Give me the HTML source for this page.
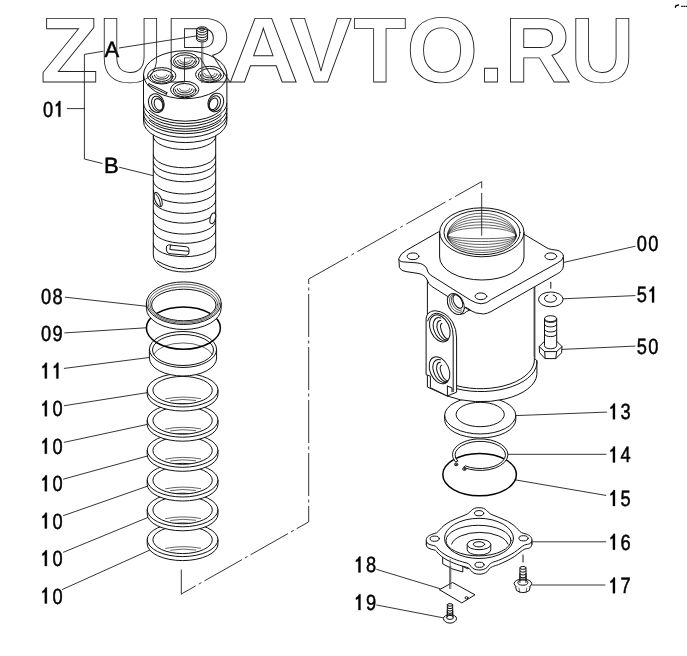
<!DOCTYPE html>
<html>
<head>
<meta charset="utf-8">
<title>Parts diagram</title>
<style>
html,body{margin:0;padding:0;background:#fff;}
body{width:687px;height:656px;overflow:hidden;font-family:"Liberation Sans",sans-serif;}
svg{display:block;position:absolute;left:0;top:0;}
.l{fill:none;stroke:#111;stroke-width:1;stroke-linecap:round;stroke-linejoin:round;}
.t{fill:none;stroke:#222;stroke-width:0.7;stroke-linecap:round;}
.w{fill:#fff;stroke:#111;stroke-width:1;stroke-linejoin:round;}
.wt{fill:#fff;stroke:#222;stroke-width:0.7;stroke-linejoin:round;}
.f{fill:#fff;stroke:none;}
.k{fill:none;stroke:#000;stroke-width:1.5;stroke-linecap:round;}
.g{fill:none;stroke:#555;stroke-width:0.8;}
.lab{font-family:"Liberation Sans",sans-serif;font-size:22px;fill:#000;stroke:#000;stroke-width:0.5;text-rendering:geometricPrecision;}
.wm{font-family:"Liberation Sans",sans-serif;font-weight:bold;font-size:92.5px;fill:none;stroke:#222;stroke-width:0.9;text-rendering:geometricPrecision;}
</style>
</head>
<body>
<svg width="687" height="656" viewBox="0 0 687 656">
<rect x="0" y="0" width="687" height="656" fill="#fff"/>
<g id="leaders" class="l" style="stroke-width:0.85">
<path d="M67.3 108.6 L84.5 108.6"/>
<path d="M102 163.4 L84.4 159 L84.4 54.4 L103 51.3"/>
<path d="M119.5 47.9 L196.6 35.9"/>
<path d="M119.5 167.3 L153 175.6"/>
<path d="M65.4 297.2 L146 306.2"/>
<path d="M64.7 332.9 L146 327.8"/>
<path d="M64.3 368.4 L149.3 357.5"/>
<path d="M64.3 405.7 L147 392.7"/>
<path d="M64.3 442.3 L147.3 424.4"/>
<path d="M63.5 479.1 L147.5 456"/>
<path d="M63.5 515.6 L148 486"/>
<path d="M63.5 552.2 L148.5 517.2"/>
<path d="M62.3 589.5 L150 550"/>
<path d="M564.2 262.3 L635 246.3"/>
<path d="M563.2 298.8 L635 295.6"/>
<path d="M562 349.4 L635 346.1"/>
<path d="M515.8 415.6 L606.5 412.1"/>
<path d="M508 454.3 L606 454.3"/>
<path d="M516 480 L605.8 495.4"/>
<path d="M532 541.8 L605.8 541.8"/>
<path d="M532 585 L605 585"/>
<path d="M376.7 569.4 L440 588.7"/>
<path d="M376.7 605 L444 618"/>
<path d="M181.3 570 L181.3 594"/>
<path d="M181.3 594 L308.5 522" stroke-dasharray="43 3.5 3 3.5" stroke-dashoffset="26.4" stroke-linecap="butt"/>
<path d="M308.7 279 L308.7 522" stroke-dasharray="43 3.5 3 3.5" stroke-dashoffset="38" stroke-linecap="butt"/>
<path d="M308.7 279 L481.7 181.6" stroke-dasharray="45 4 3 4" stroke-linecap="butt"/>
<path d="M675.4 7.2 L675.8 5.8 L678.4 5.0" stroke="#000" stroke-width="1.4"/>
<path d="M681.2 6.4 L687 6.4" stroke="#000" stroke-width="1.4" stroke-dasharray="1.6 0.6" stroke-linecap="butt"/>

</g>
<g id="parts">
<!-- SPOOL 01 -->
<path class="w" d="M153.3,130 L153.3,255 A31.2,17 0 0 0 215.7,255 L215.7,130 Z"/>
<path class="l" d="M157.2,261 Q184.5,277 212,261"/>
<path class="l" d="M153.3,136.5 A31.2,13 0 0 0 215.7,136.5"/>
<path class="l" d="M153.3,154.8 A31.2,13 0 0 0 215.7,154.8"/>
<path class="l" d="M153.3,161.5 A31.2,13 0 0 0 215.7,161.5"/>
<path class="l" d="M153.3,168.8 A31.2,13 0 0 0 215.7,168.8"/>
<path class="l" d="M153.3,181.0 A31.2,13 0 0 0 215.7,181.0"/>
<path class="l" d="M153.3,190.2 A31.2,13 0 0 0 215.7,190.2"/>
<path class="l" d="M153.3,200.4 A31.2,13 0 0 0 215.7,200.4"/>
<path class="l" d="M153.3,210.2 A31.2,13 0 0 0 215.7,210.2"/>
<path class="l" d="M153.3,221.1 A31.2,13 0 0 0 215.7,221.1"/>
<path class="l" d="M153.3,230.3 A31.2,13 0 0 0 215.7,230.3"/>
<path class="l" d="M153.3,243.7 A31.2,13 0 0 0 215.7,243.7"/>
<ellipse class="w" cx="158.2" cy="199.6" rx="3.2" ry="7.6" transform="rotate(-22 158.2 199.6)"/>
<ellipse class="w" cx="212.8" cy="218.3" rx="2.6" ry="5.5" transform="rotate(15 212.8 218.3)"/>
<path class="l" d="M155.8,194 Q160.4,198.5 160.4,206"/>
<path class="w" d="M168.5,244.8 Q166,245 166.3,249 Q166.5,253 169,253.6 L186,255.2 Q189,255.4 189,252 L189,249.5 Q189,247 186.5,246.8 Z"/>
<path class="l" d="M170.5,245.2 L169.8,249.5 L188.5,251.3"/>
<path class="w" d="M143.5,74.7 A41.7,24 0 0 1 226.89999999999998,74.7 L226.89999999999998,121.3 A41.7,21.3 0 0 1 143.5,121.3 Z"/>
<path class="l" d="M143.5,103.3 A41.7,20.3 0 0 0 226.9,103.3"/>
<path class="l" d="M143.5,108.7 A41.7,20.3 0 0 0 226.9,108.7"/>
<path class="l" d="M143.5,113.4 A41.7,20.3 0 0 0 226.9,113.4"/>
<path class="l" d="M143.5,117.1 A41.7,20.3 0 0 0 226.9,117.1"/>
<path class="l" d="M149.2,110.2 A40.5,20.3 0 0 0 221.2,110.2"/>
<path class="l" d="M149.2,115.4 A40.5,20.3 0 0 0 221.2,115.4"/>
<path class="l" d="M149.2,120.4 A40.5,20.3 0 0 0 221.2,120.4"/>
<path class="l" d="M143.5,74.7 A41.7,24 0 0 0 226.9,74.7"/>
<ellipse class="w" cx="156.3" cy="103.2" rx="7.6" ry="9.6" transform="rotate(-22 156.3 103.2)"/>
<ellipse class="l" cx="157.5" cy="103.8" rx="5.6" ry="7.8" transform="rotate(-22 157.5 103.8)"/>
<ellipse class="l" cx="158.5" cy="104.4" rx="4.0" ry="6.0" transform="rotate(-22 158.5 104.4)"/>
<ellipse class="w" cx="215.8" cy="102.5" rx="7.6" ry="9.6" transform="rotate(22 215.8 102.5)"/>
<ellipse class="l" cx="214.6" cy="103.2" rx="5.6" ry="7.8" transform="rotate(22 214.6 103.2)"/>
<ellipse class="l" cx="213.6" cy="103.8" rx="4.0" ry="6.0" transform="rotate(22 213.6 103.8)"/>
<path class="l" d="M148,85 L166.3,94.1 M149,83.6 L167,92.6 M148,85 L149,83.6 M166.3,94.1 L167,92.6"/>
<ellipse class="w" cx="185" cy="60.9" rx="14.2" ry="8.2"/>
<ellipse class="l" cx="185" cy="61.6" rx="11.4" ry="6.7"/>
<path class="l" d="M175.4,61.1 A9.6,5.4 0 0 0 194.6,61.1"/>
<path class="l" d="M177.6,60.3 A7.4,4.0 0 0 0 192.4,60.3"/>
<path class="t" d="M179.8,59.9 A5.2,2.6 0 0 0 190.2,59.9"/>
<ellipse class="w" cx="161.7" cy="75.8" rx="14.2" ry="8.2"/>
<ellipse class="l" cx="161.7" cy="76.5" rx="11.4" ry="6.7"/>
<path class="l" d="M152.1,76.0 A9.6,5.4 0 0 0 171.3,76.0"/>
<path class="l" d="M154.3,75.2 A7.4,4.0 0 0 0 169.1,75.2"/>
<path class="t" d="M156.5,74.8 A5.2,2.6 0 0 0 166.9,74.8"/>
<ellipse class="w" cx="209.7" cy="74.5" rx="14.2" ry="8.2"/>
<ellipse class="l" cx="209.7" cy="75.2" rx="11.4" ry="6.7"/>
<path class="l" d="M200.1,74.7 A9.6,5.4 0 0 0 219.3,74.7"/>
<path class="l" d="M202.3,73.9 A7.4,4.0 0 0 0 217.1,73.9"/>
<path class="t" d="M204.5,73.5 A5.2,2.6 0 0 0 214.9,73.5"/>
<ellipse class="w" cx="184.7" cy="89.5" rx="14.2" ry="8.2"/>
<ellipse class="l" cx="184.7" cy="90.2" rx="11.4" ry="6.7"/>
<path class="l" d="M175.1,89.7 A9.6,5.4 0 0 0 194.3,89.7"/>
<path class="l" d="M177.3,88.9 A7.4,4.0 0 0 0 192.1,88.9"/>
<path class="t" d="M179.5,88.5 A5.2,2.6 0 0 0 189.9,88.5"/>
<path class="w" d="M196.6,29.6 L196.6,39.2 A5.5,2.8 0 0 0 207.6,39.2 L207.6,29.6 A5.5,2.8 0 0 0 196.6,29.6 Z"/>
<path class="l" d="M196.6,29.6 A5.5,2.8 0 0 0 207.6,29.6"/>
<path class="l" d="M196.6,32.2 A5.5,2.8 0 0 0 207.6,32.2"/>
<path class="l" d="M196.6,34.8 A5.5,2.8 0 0 0 207.6,34.8"/>
<path class="l" d="M196.6,37.4 A5.5,2.8 0 0 0 207.6,37.4"/>
<ellipse class="l" cx="202.1" cy="29.2" rx="2.6" ry="1.2"/>
<path class="g" d="M201.6,41.6 L201.6,83 M202.8,41.6 L202.8,83"/>
<!-- RINGS -->
<path class="w" d="M147.2,539.8 A35.4,16.8 0 0 1 218.0,539.8 L218.0,543.8 A35.4,16.8 0 0 1 147.2,543.8 Z M152.9,539.8 A29.7,13.8 0 0 0 212.29999999999998,539.8 A29.7,13.8 0 0 0 152.9,539.8 Z" fill-rule="evenodd"/>
<path class="l" d="M147.2,539.8 A35.4,16.8 0 0 0 218.0,539.8"/>
<path class="t" d="M165.6,548.4 Q182.6,545.0 200.6,548.1999999999999"/>
<path class="t" d="M170.6,550.1999999999999 Q182.6,548.0 195.6,550.0"/>
<path class="w" d="M147.2,510 A35.4,16.8 0 0 1 218.0,510 L218.0,514 A35.4,16.8 0 0 1 147.2,514 Z M152.9,510 A29.7,13.8 0 0 0 212.29999999999998,510 A29.7,13.8 0 0 0 152.9,510 Z" fill-rule="evenodd"/>
<path class="l" d="M147.2,510.0 A35.4,16.8 0 0 0 218.0,510.0"/>
<path class="t" d="M165.6,518.6 Q182.6,515.2 200.6,518.4"/>
<path class="t" d="M170.6,520.4 Q182.6,518.2 195.6,520.2"/>
<path class="w" d="M147.2,480.2 A35.4,16.8 0 0 1 218.0,480.2 L218.0,484.2 A35.4,16.8 0 0 1 147.2,484.2 Z M152.9,480.2 A29.7,13.8 0 0 0 212.29999999999998,480.2 A29.7,13.8 0 0 0 152.9,480.2 Z" fill-rule="evenodd"/>
<path class="l" d="M147.2,480.2 A35.4,16.8 0 0 0 218.0,480.2"/>
<path class="t" d="M165.6,488.8 Q182.6,485.4 200.6,488.59999999999997"/>
<path class="t" d="M170.6,490.59999999999997 Q182.6,488.4 195.6,490.4"/>
<path class="w" d="M147.2,450.5 A35.4,16.8 0 0 1 218.0,450.5 L218.0,454.5 A35.4,16.8 0 0 1 147.2,454.5 Z M152.9,450.5 A29.7,13.8 0 0 0 212.29999999999998,450.5 A29.7,13.8 0 0 0 152.9,450.5 Z" fill-rule="evenodd"/>
<path class="l" d="M147.2,450.5 A35.4,16.8 0 0 0 218.0,450.5"/>
<path class="t" d="M165.6,459.1 Q182.6,455.7 200.6,458.9"/>
<path class="t" d="M170.6,460.9 Q182.6,458.7 195.6,460.7"/>
<path class="w" d="M147.2,420.4 A35.4,16.8 0 0 1 218.0,420.4 L218.0,424.4 A35.4,16.8 0 0 1 147.2,424.4 Z M152.9,420.4 A29.7,13.8 0 0 0 212.29999999999998,420.4 A29.7,13.8 0 0 0 152.9,420.4 Z" fill-rule="evenodd"/>
<path class="l" d="M147.2,420.4 A35.4,16.8 0 0 0 218.0,420.4"/>
<path class="t" d="M165.6,429.0 Q182.6,425.59999999999997 200.6,428.79999999999995"/>
<path class="t" d="M170.6,430.79999999999995 Q182.6,428.59999999999997 195.6,430.59999999999997"/>
<path class="w" d="M147.2,390.2 A35.4,16.8 0 0 1 218.0,390.2 L218.0,394.2 A35.4,16.8 0 0 1 147.2,394.2 Z M152.9,390.2 A29.7,13.8 0 0 0 212.29999999999998,390.2 A29.7,13.8 0 0 0 152.9,390.2 Z" fill-rule="evenodd"/>
<path class="l" d="M147.2,390.2 A35.4,16.8 0 0 0 218.0,390.2"/>
<path class="t" d="M165.6,398.8 Q182.6,395.4 200.6,398.59999999999997"/>
<path class="t" d="M170.6,400.59999999999997 Q182.6,398.4 195.6,400.4"/>
<path class="w" d="M149.4,349.5 A33.6,18 0 0 1 216.6,349.5 L216.6,358.0 A33.6,18 0 0 1 149.4,358.0 Z M152.5,350.0 A30.5,15.5 0 0 0 213.5,350.0 A30.5,15.5 0 0 0 152.5,350.0 Z" fill-rule="evenodd"/>
<path class="l" d="M149.4,349.5 A33.6,18 0 0 0 216.6,349.5"/>
<path class="t" d="M153.5,354.5 A30.5,15.5 0 0 1 212.5,354.5"/>
<ellipse class="k" cx="183.4" cy="328.1" rx="37" ry="21.1"/>
<path class="w" d="M146.4,303.2 A37.4,21.3 0 0 1 221.20000000000002,303.2 L221.20000000000002,308.2 A37.4,21.3 0 0 1 146.4,308.2 Z M151.60000000000002,305.0 A32.2,15.8 0 0 0 216.0,305.0 A32.2,15.8 0 0 0 151.60000000000002,305.0 Z" fill-rule="evenodd"/>
<path class="l" d="M146.4,303.2 A37.4,21.3 0 0 0 221.2,303.2"/>
<ellipse class="t" cx="183.8" cy="303.7" rx="35.6" ry="19.6"/>
<ellipse class="t" cx="183.8" cy="304.4" rx="33.8" ry="17.6"/>
<!-- RING 13 -->
<path class="w" d="M444.59999999999997,415.5 A35.6,18.5 0 0 1 515.8,415.5 L515.8,419.5 A35.6,18.5 0 0 1 444.59999999999997,419.5 Z M456.09999999999997,414.5 A24.1,12.2 0 0 0 504.3,414.5 A24.1,12.2 0 0 0 456.09999999999997,414.5 Z" fill-rule="evenodd"/>
<path class="l" d="M444.6,415.5 A35.6,18.5 0 0 0 515.8,415.5"/>
<!-- HOUSING 00 -->
<path class="w" d="M427.4,280 L427.4,387 L447.2,396 A56,28.4 0 0 0 536.9,374.4 L536.9,360.8 L534.8,358.6 L534.8,285 Z"/>
<path class="l" d="M536.9,360.7 A56,29.2 0 0 1 456.8,388.8"/>
<path class="l" d="M534.4,358.5 A53.5,28.8 0 0 1 456.8,385.7"/>
<path class="t" d="M534,286 L534,357"/>
<path class="w" d="M426.1,318.5 Q427,311 435.2,310.7 Q446,311.5 452.5,322 Q456.6,329 456.6,338 L456.6,392.2 L447.4,396 L430.4,387.7 L430.4,376.2 L426.1,374.7 Z"/>
<path class="l" d="M427.6,321 Q430,313.6 436.8,313.2 Q446,314.6 450.4,323 Q453.2,329 453.2,337 L453.2,391.5"/>
<path class="l" d="M447.4,386.1 L447.4,396 M447.4,386.1 L452,387.9 L452,391.8"/>
<ellipse class="w" cx="439.8" cy="328.4" rx="9.4" ry="14.2" transform="rotate(-24 439.8 328.4)"/>
<path class="l" d="M443.0,341.4 A7.5,12.299999999999999 0 1 1 445.4,318.6" transform="rotate(-24 441.7 329.29999999999995)"/>
<path class="l" d="M443.1,340.6 A5.6000000000000005,10.399999999999999 0 1 1 445.0,320.2" transform="rotate(-24 443.6 330.2)"/>
<path class="l" d="M444.5,339.3 A3.700000000000001,8.5 0 0 1 445.5,322.6" transform="rotate(-24 445.5 331.09999999999997)"/>
<ellipse class="w" cx="439.5" cy="370.2" rx="9.4" ry="14.2" transform="rotate(-24 439.5 370.2)"/>
<path class="l" d="M442.7,383.2 A7.5,12.299999999999999 0 1 1 445.1,360.4" transform="rotate(-24 441.4 371.09999999999997)"/>
<path class="l" d="M442.8,382.4 A5.6000000000000005,10.399999999999999 0 1 1 444.7,362.0" transform="rotate(-24 443.3 372.0)"/>
<path class="l" d="M444.2,381.1 A3.700000000000001,8.5 0 0 1 445.2,364.4" transform="rotate(-24 445.2 372.9)"/>
<path class="w" d="M398.9,259 L399.4,267.5 Q401,271 406,271.6 L418,273.4 Q425,274.5 427.2,280 Q428.5,284 431.5,286.2 L467.8,309.2 Q476,314.2 483.5,314 Q488,313.4 491,311.6 L557.3,273.8 Q563,271 563.4,266 L563.4,255.5 L481,240 Z"/>
<ellipse class="w" cx="455.8" cy="304" rx="7.6" ry="11.2" transform="rotate(-28 455.8 304)"/>
<path class="t" d="M457.7,313.1 A6.2,9.8 0 1 1 458.7,294.2" transform="rotate(-28 456.6 303.4)"/>
<path class="t" d="M457.6,311.2 A5.0,8.6 0 1 1 458.5,294.3" transform="rotate(-28 457.2 302.6)"/>
<ellipse class="l" cx="457.9" cy="301.6" rx="4.0" ry="7.3" transform="rotate(-28 457.9 301.6)"/>
<path class="l" d="M464.6,308.4 L465.6,307.2 L470.2,309.8 L466.4,311.6 Q465,314 460.5,314.4"/>
<path class="w" d="M438.5,231.9 L406.5,250.2 Q400.5,253.6 398.9,258.2 Q398.6,261.6 403.4,261.9 L417,262.9 Q424,263.6 426.6,268.2 Q427.4,272.4 430.4,275 L470.6,300.2 Q476,303.4 481,303.8 Q486.5,303.8 491.5,299.4 L557.3,263.1 Q563,260.6 563.4,256.4 Q563,251.8 557,250.2 Q551,249.6 548.2,248.6 L523.8,234.1 Z"/>
<ellipse class="l" cx="413" cy="256.3" rx="5.9" ry="3.4"/>
<ellipse class="l" cx="480.9" cy="296.3" rx="5.9" ry="3.4"/>
<ellipse class="l" cx="550.8" cy="256.3" rx="5.9" ry="3.4"/>
<path class="w" d="M439.6,232.3 A42.2,24.5 0 0 1 524.0,232.3 L524.0,257 A42.2,23 0 0 1 439.6,257 Z"/>
<path class="l" d="M439.6,232.3 A42.2,24.5 0 0 0 524.0,232.3"/>
<ellipse class="l" cx="482" cy="232.5" rx="38" ry="22.2"/>
<clipPath id="cb"><ellipse cx="482" cy="232.5" rx="37.6" ry="21.8"/></clipPath><g clip-path="url(#cb)">
<path class="t" d="M447.4,236.0 A34.4,22.8 0 0 1 516.2,236.0"/>
<path class="t" d="M447.4,236.0 A34.4,19.9 0 0 1 516.2,236.0"/>
<path class="t" d="M447.4,236.0 A34.4,17 0 0 1 516.2,236.0"/>
<path class="t" d="M447.4,236.0 A34.4,14.1 0 0 1 516.2,236.0"/>
<path class="t" d="M447.4,236.0 A34.4,11.2 0 0 1 516.2,236.0"/>
<path class="t" d="M447.4,236.0 A34.4,8.3 0 0 1 516.2,236.0"/>
<path class="t" d="M447.4,236.0 A34.4,16.5 0 0 0 516.2,236.0"/>
<path class="t" d="M447.4,236.0 A34.4,14.3 0 0 0 516.2,236.0"/>
<path class="t" d="M447.4,236.0 A34.4,11.4 0 0 0 516.2,236.0"/>
<path class="t" d="M447.4,236.0 A34.4,8.5 0 0 0 516.2,236.0"/>
<path class="t" d="M447.4,236.0 A34.4,5.6 0 0 0 516.2,236.0"/>
<path class="t" d="M447.4,236.0 A34.4,2.7 0 0 0 516.2,236.0"/>
</g>
<!-- WASHER 51 -->
<ellipse class="w" cx="550.8" cy="299.4" rx="12.3" ry="7.4"/>
<path class="l" d="M553.1,295.0 A6.1,3.8 0 1 1 547.9,295.0"/>
<path class="l" d="M550.8,282.2 L550.8,288.3"/>
<!-- BOLT 50 -->
<path class="w" d="M539.2,346.6 L544.7,341.1 L556.6,341.1 L562,346.6 L561.6,352.8 L555.8,358.6 L545.1,358.6 L539.6,352.8 Z"/>
<path class="l" d="M539.2,346.6 L544.7,351.6 L556.6,351.6 L562,346.6 M544.7,351.6 L545.1,358.6 M556.6,351.6 L555.8,358.6"/>
<path class="w" d="M544.5,318.7 L544.5,345.6 A6.1,3.2 0 0 0 556.7,345.6 L556.7,318.7 A6.1,3 0 0 0 544.5,318.7 Z"/>
<path class="l" d="M544.5,318.7 A6.1,3 0 0 0 556.7,318.7"/>
<path class="l" d="M544.5,320.0 A6.1,2.4 0 0 0 556.7,320.0"/>
<path class="l" d="M544.5,324.5 A6.1,2.4 0 0 0 556.7,324.5"/>
<path class="l" d="M544.5,329.6 A6.1,2.4 0 0 0 556.7,329.6"/>
<path class="l" d="M544.5,334.2 A6.1,2.4 0 0 0 556.7,334.2"/>
<!-- ORING 15 -->
<ellipse class="k" cx="479.6" cy="474.6" rx="36.8" ry="21.2"/>
<!-- SNAP RING 14 -->
<path class="w" d="M455.6,461.9 A27.7,15.8 0 1 1 463.6,467.3 L465.1,465.8 A25.2,13.6 0 1 0 457.8,461.1 Z"/>
<ellipse class="w" cx="456.2" cy="464.4" rx="1.7" ry="1.4"/>
<ellipse class="w" cx="464.4" cy="469.0" rx="1.7" ry="1.4"/>
<ellipse class="l" cx="456.2" cy="464.4" rx="0.5" ry="0.4"/>
<ellipse class="l" cx="464.4" cy="469.0" rx="0.5" ry="0.4"/>
<!-- COVER 16 -->
<path class="w" d="M442.7,550 L442.7,563.8 Q451,569.6 462.8,572 L462.8,566.4 L468,569 L470,566 L470,556 Z"/>
<path class="l" d="M462.8,566.4 L462.8,561 M462.8,566.4 L466.5,562.5"/>
<path class="w" d="M478.9,507.7 C480.4,507.7 482.2,507.8 483.5,508.3 C484.8,508.8 485.5,509.6 486.6,510.5 C487.8,511.4 488.5,512.7 490.4,513.8 C492.3,514.9 495.4,516.0 498.2,517.2 C501.0,518.4 504.8,519.8 507.4,521.2 C510.0,522.6 512.2,524.1 514.0,525.5 C515.8,526.9 517.0,528.4 518.2,529.6 C519.4,530.8 520.0,531.9 521.4,532.6 C522.8,533.4 524.9,533.4 526.4,534.1 C527.9,534.8 529.7,535.6 530.6,536.6 C531.5,537.6 532.0,538.8 531.9,540.0 C531.8,541.2 531.1,542.8 529.9,543.6 C528.7,544.4 526.2,544.3 524.6,545.0 C523.0,545.7 521.7,546.8 520.0,548.0 C518.3,549.2 516.7,550.9 514.5,552.3 C512.3,553.7 509.6,555.2 507.0,556.5 C504.4,557.8 501.0,559.3 498.6,560.3 C496.2,561.3 494.0,561.7 492.5,562.4 C491.0,563.1 490.3,563.6 489.4,564.4 C488.5,565.2 488.2,566.5 487.2,567.4 C486.2,568.2 484.6,569.1 483.2,569.5 C481.8,569.9 480.3,570.1 478.8,570.0 C477.3,569.9 475.3,569.6 474.0,569.0 C472.7,568.4 471.8,567.3 470.9,566.4 C470.0,565.5 469.6,564.4 468.6,563.8 C467.6,563.2 466.5,563.1 465.0,562.6 C463.5,562.1 461.4,561.6 459.5,561.0 C457.6,560.4 455.6,559.7 453.5,558.8 C451.4,557.9 449.0,556.9 447.0,555.8 C445.0,554.7 443.0,553.3 441.5,552.2 C440.0,551.1 439.0,550.0 438.0,549.0 C437.0,548.0 436.7,546.9 435.6,546.2 C434.5,545.5 432.6,545.5 431.2,545.0 C429.8,544.5 428.2,544.0 427.4,543.2 C426.6,542.4 426.3,541.2 426.3,540.2 C426.3,539.2 426.5,538.0 427.4,537.0 C428.3,536.0 430.1,535.1 431.6,534.4 C433.1,533.7 435.2,533.6 436.6,532.8 C438.0,532.0 438.7,530.8 439.9,529.6 C441.1,528.4 442.2,526.9 444.0,525.5 C445.8,524.1 448.0,522.6 450.6,521.2 C453.2,519.8 457.0,518.4 459.8,517.2 C462.6,516.0 465.7,514.9 467.6,513.8 C469.5,512.7 470.2,511.4 471.4,510.5 C472.5,509.6 473.2,508.8 474.5,508.3 C475.8,507.8 477.4,507.7 478.9,507.7 Z" transform="translate(0,4.2)"/>
<path class="l" d="M426.3,540.2 L426.3,544.4 M531.9,540 L531.9,544.2"/>
<path class="w" d="M478.9,507.7 C480.4,507.7 482.2,507.8 483.5,508.3 C484.8,508.8 485.5,509.6 486.6,510.5 C487.8,511.4 488.5,512.7 490.4,513.8 C492.3,514.9 495.4,516.0 498.2,517.2 C501.0,518.4 504.8,519.8 507.4,521.2 C510.0,522.6 512.2,524.1 514.0,525.5 C515.8,526.9 517.0,528.4 518.2,529.6 C519.4,530.8 520.0,531.9 521.4,532.6 C522.8,533.4 524.9,533.4 526.4,534.1 C527.9,534.8 529.7,535.6 530.6,536.6 C531.5,537.6 532.0,538.8 531.9,540.0 C531.8,541.2 531.1,542.8 529.9,543.6 C528.7,544.4 526.2,544.3 524.6,545.0 C523.0,545.7 521.7,546.8 520.0,548.0 C518.3,549.2 516.7,550.9 514.5,552.3 C512.3,553.7 509.6,555.2 507.0,556.5 C504.4,557.8 501.0,559.3 498.6,560.3 C496.2,561.3 494.0,561.7 492.5,562.4 C491.0,563.1 490.3,563.6 489.4,564.4 C488.5,565.2 488.2,566.5 487.2,567.4 C486.2,568.2 484.6,569.1 483.2,569.5 C481.8,569.9 480.3,570.1 478.8,570.0 C477.3,569.9 475.3,569.6 474.0,569.0 C472.7,568.4 471.8,567.3 470.9,566.4 C470.0,565.5 469.6,564.4 468.6,563.8 C467.6,563.2 466.5,563.1 465.0,562.6 C463.5,562.1 461.4,561.6 459.5,561.0 C457.6,560.4 455.6,559.7 453.5,558.8 C451.4,557.9 449.0,556.9 447.0,555.8 C445.0,554.7 443.0,553.3 441.5,552.2 C440.0,551.1 439.0,550.0 438.0,549.0 C437.0,548.0 436.7,546.9 435.6,546.2 C434.5,545.5 432.6,545.5 431.2,545.0 C429.8,544.5 428.2,544.0 427.4,543.2 C426.6,542.4 426.3,541.2 426.3,540.2 C426.3,539.2 426.5,538.0 427.4,537.0 C428.3,536.0 430.1,535.1 431.6,534.4 C433.1,533.7 435.2,533.6 436.6,532.8 C438.0,532.0 438.7,530.8 439.9,529.6 C441.1,528.4 442.2,526.9 444.0,525.5 C445.8,524.1 448.0,522.6 450.6,521.2 C453.2,519.8 457.0,518.4 459.8,517.2 C462.6,516.0 465.7,514.9 467.6,513.8 C469.5,512.7 470.2,511.4 471.4,510.5 C472.5,509.6 473.2,508.8 474.5,508.3 C475.8,507.8 477.4,507.7 478.9,507.7 Z"/>
<ellipse class="l" cx="479.1" cy="513.2" rx="4.6" ry="2.6"/>
<ellipse class="l" cx="434.7" cy="538.7" rx="4.6" ry="2.6"/>
<ellipse class="l" cx="523.5" cy="538.3" rx="4.6" ry="2.6"/>
<ellipse class="l" cx="479.5" cy="564.8" rx="4.6" ry="2.6"/>
<ellipse class="l" cx="479" cy="538.4" rx="34.5" ry="20.1"/>
<ellipse class="l" cx="478.5" cy="540.6" rx="32.5" ry="15.3"/>
<path class="l" d="M451.6,544.1 A28.5,13.7 0 0 1 508.0,544.1"/>
<path class="w" d="M467.2,544.5 L467.2,549.8 A11.8,5.2 0 0 0 490.8,549.8 L490.8,544.5 Z"/>
<ellipse class="w" cx="479" cy="544.5" rx="11.8" ry="5.2"/>
<ellipse class="l" cx="479" cy="544.3" rx="5.7" ry="2.6"/>
<!-- PLATE 18 -->
<path class="g" d="M450.2,559 L450.2,588.6"/>
<path class="w" d="M439.4,589.7 L452.6,582.5 L475,594.8 L461.8,602.9 Z"/>
<path class="g" d="M449.6,566 L449.6,589 M450.8,566 L450.8,589"/>
<ellipse class="l" cx="466.5" cy="597.8" rx="1.5" ry="1.1"/>
<!-- BOLT 17 -->
<path class="l" d="M523,555 L523,562"/>
<path class="w" d="M519.9,568 L519.9,582 L526,582 L526,568 A3.05,1.6 0 0 0 519.9,568 Z"/>
<path class="l" d="M519.9,568.0 A3.05,1.4 0 0 0 526.0,568.0"/>
<path class="l" d="M519.9,570.8 A3.05,1.4 0 0 0 526.0,570.8"/>
<path class="l" d="M519.9,573.6 A3.05,1.4 0 0 0 526.0,573.6"/>
<path class="l" d="M519.9,576.4 A3.05,1.4 0 0 0 526.0,576.4"/>
<path class="l" d="M519.9,579.2 A3.05,1.4 0 0 0 526.0,579.2"/>
<ellipse class="w" cx="522.9" cy="583.6" rx="8.8" ry="4.6"/>
<path class="w" d="M515.5,586.4 L516.6,590.6 Q522.9,594.6 529.2,590.6 L530.3,586.4"/>
<path class="t" d="M519,588 L519.6,592.2 M526.8,588 L526.2,592.2"/>
<ellipse class="w" cx="522.9" cy="582.6" rx="5.0" ry="2.6"/>
<path class="l" d="M519.9,574 L519.9,582.4 M526,574 L526,582.4"/>
<!-- SCREW 19 -->
<path class="w" d="M447.3,605 L447.3,616 L452.7,616 L452.7,605 A2.7,1.4 0 0 0 447.3,605 Z"/>
<path class="l" d="M447.3,605.0 A2.7,1.2 0 0 0 452.7,605.0"/>
<path class="l" d="M447.3,607.4 A2.7,1.2 0 0 0 452.7,607.4"/>
<path class="l" d="M447.3,609.8 A2.7,1.2 0 0 0 452.7,609.8"/>
<path class="l" d="M447.3,612.2 A2.7,1.2 0 0 0 452.7,612.2"/>
<ellipse class="w" cx="450" cy="618.3" rx="6.5" ry="3.6"/>
<path class="w" d="M443.5,618.6 Q444,622.6 450,623.2 Q456,622.6 456.5,618.6"/>
<ellipse class="w" cx="450" cy="617.4" rx="3.6" ry="2.0"/>
<path class="l" d="M447.3,611 L447.3,617 M452.7,611 L452.7,617"/>
</g>
<g id="overlay" class="l" style="stroke-width:0.85">
<path d="M481.7 181.6 L481.7 235.7" stroke-dasharray="6.7 4.6 100" stroke-linecap="butt"/>

</g>
<g id="labels" class="lab" style="opacity:0.999">
<text transform="translate(43.0,116.8) scale(0.83,1)">0</text>
<path d="M3.8,0 L3.8,-11.4 L1.3,-10.4 L1.3,-12.3 Q3.7,-13.4 4.5,-15.9 L5.9,-15.9 L5.9,0 Z" transform="translate(54.5,116.8)" style="stroke-width:0.3"/>
<text transform="translate(104.6,57.3) scale(1.0,1)">A</text>
<text transform="translate(104.0,172.5) scale(1.0,1)">B</text>
<text transform="translate(41.0,304.1) scale(0.83,1)">0</text>
<text transform="translate(52.5,304.1) scale(0.83,1)">8</text>
<text transform="translate(41.0,341) scale(0.83,1)">0</text>
<text transform="translate(52.5,341) scale(0.83,1)">9</text>
<path d="M3.8,0 L3.8,-11.4 L1.3,-10.4 L1.3,-12.3 Q3.7,-13.4 4.5,-15.9 L5.9,-15.9 L5.9,0 Z" transform="translate(41.0,378.6)" style="stroke-width:0.3"/>
<path d="M3.8,0 L3.8,-11.4 L1.3,-10.4 L1.3,-12.3 Q3.7,-13.4 4.5,-15.9 L5.9,-15.9 L5.9,0 Z" transform="translate(52.5,378.6)" style="stroke-width:0.3"/>
<path d="M3.8,0 L3.8,-11.4 L1.3,-10.4 L1.3,-12.3 Q3.7,-13.4 4.5,-15.9 L5.9,-15.9 L5.9,0 Z" transform="translate(41.0,416.3)" style="stroke-width:0.3"/>
<text transform="translate(52.5,416.3) scale(0.83,1)">0</text>
<path d="M3.8,0 L3.8,-11.4 L1.3,-10.4 L1.3,-12.3 Q3.7,-13.4 4.5,-15.9 L5.9,-15.9 L5.9,0 Z" transform="translate(41.0,453.8)" style="stroke-width:0.3"/>
<text transform="translate(52.5,453.8) scale(0.83,1)">0</text>
<path d="M3.8,0 L3.8,-11.4 L1.3,-10.4 L1.3,-12.3 Q3.7,-13.4 4.5,-15.9 L5.9,-15.9 L5.9,0 Z" transform="translate(41.0,491.2)" style="stroke-width:0.3"/>
<text transform="translate(52.5,491.2) scale(0.83,1)">0</text>
<path d="M3.8,0 L3.8,-11.4 L1.3,-10.4 L1.3,-12.3 Q3.7,-13.4 4.5,-15.9 L5.9,-15.9 L5.9,0 Z" transform="translate(41.0,528.6)" style="stroke-width:0.3"/>
<text transform="translate(52.5,528.6) scale(0.83,1)">0</text>
<path d="M3.8,0 L3.8,-11.4 L1.3,-10.4 L1.3,-12.3 Q3.7,-13.4 4.5,-15.9 L5.9,-15.9 L5.9,0 Z" transform="translate(41.0,566.1)" style="stroke-width:0.3"/>
<text transform="translate(52.5,566.1) scale(0.83,1)">0</text>
<path d="M3.8,0 L3.8,-11.4 L1.3,-10.4 L1.3,-12.3 Q3.7,-13.4 4.5,-15.9 L5.9,-15.9 L5.9,0 Z" transform="translate(41.0,603.5)" style="stroke-width:0.3"/>
<text transform="translate(52.5,603.5) scale(0.83,1)">0</text>
<text transform="translate(636.7,251.3) scale(0.83,1)">0</text>
<text transform="translate(648.2,251.3) scale(0.83,1)">0</text>
<text transform="translate(636.7,302.4) scale(0.83,1)">5</text>
<path d="M3.8,0 L3.8,-11.4 L1.3,-10.4 L1.3,-12.3 Q3.7,-13.4 4.5,-15.9 L5.9,-15.9 L5.9,0 Z" transform="translate(648.2,302.4)" style="stroke-width:0.3"/>
<text transform="translate(636.7,353.6) scale(0.83,1)">5</text>
<text transform="translate(648.2,353.6) scale(0.83,1)">0</text>
<path d="M3.8,0 L3.8,-11.4 L1.3,-10.4 L1.3,-12.3 Q3.7,-13.4 4.5,-15.9 L5.9,-15.9 L5.9,0 Z" transform="translate(609.1,419.3)" style="stroke-width:0.3"/>
<text transform="translate(620.6,419.3) scale(0.83,1)">3</text>
<path d="M3.8,0 L3.8,-11.4 L1.3,-10.4 L1.3,-12.3 Q3.7,-13.4 4.5,-15.9 L5.9,-15.9 L5.9,0 Z" transform="translate(609.1,462.4)" style="stroke-width:0.3"/>
<text transform="translate(620.6,462.4) scale(0.83,1)">4</text>
<path d="M3.8,0 L3.8,-11.4 L1.3,-10.4 L1.3,-12.3 Q3.7,-13.4 4.5,-15.9 L5.9,-15.9 L5.9,0 Z" transform="translate(609.1,506.0)" style="stroke-width:0.3"/>
<text transform="translate(620.6,506.0) scale(0.83,1)">5</text>
<path d="M3.8,0 L3.8,-11.4 L1.3,-10.4 L1.3,-12.3 Q3.7,-13.4 4.5,-15.9 L5.9,-15.9 L5.9,0 Z" transform="translate(609.1,549.7)" style="stroke-width:0.3"/>
<text transform="translate(620.6,549.7) scale(0.83,1)">6</text>
<path d="M3.8,0 L3.8,-11.4 L1.3,-10.4 L1.3,-12.3 Q3.7,-13.4 4.5,-15.9 L5.9,-15.9 L5.9,0 Z" transform="translate(609.1,593.3)" style="stroke-width:0.3"/>
<text transform="translate(620.6,593.3) scale(0.83,1)">7</text>
<path d="M3.8,0 L3.8,-11.4 L1.3,-10.4 L1.3,-12.3 Q3.7,-13.4 4.5,-15.9 L5.9,-15.9 L5.9,0 Z" transform="translate(354.6,572.4)" style="stroke-width:0.3"/>
<text transform="translate(366.1,572.4) scale(0.83,1)">8</text>
<path d="M3.8,0 L3.8,-11.4 L1.3,-10.4 L1.3,-12.3 Q3.7,-13.4 4.5,-15.9 L5.9,-15.9 L5.9,0 Z" transform="translate(354.6,610.1)" style="stroke-width:0.3"/>
<text transform="translate(366.1,610.1) scale(0.83,1)">9</text>
</g>
<g class="wm"><text transform="translate(40.2,81.5) scale(1.03,1)" vector-effect="non-scaling-stroke">Z</text><text transform="translate(99.05,81.5) scale(0.942,1)" vector-effect="non-scaling-stroke">U</text><text transform="translate(165,81.5) scale(1.0,1)" vector-effect="non-scaling-stroke">R</text><text transform="translate(228.0,81.5) scale(1.059,1)" vector-effect="non-scaling-stroke">A</text><text transform="translate(289.9,81.5) scale(1.0,1)" vector-effect="non-scaling-stroke">V</text><text transform="translate(353.5,81.5) scale(0.933,1)" vector-effect="non-scaling-stroke">T</text><text transform="translate(406.5,81.5) scale(0.992,1)" vector-effect="non-scaling-stroke">O</text><text transform="translate(478.3,81.5) scale(1.0,1)" vector-effect="non-scaling-stroke">.</text><text transform="translate(504.3,81.5) scale(1.0,1)" vector-effect="non-scaling-stroke">R</text><text transform="translate(570.5,81.5) scale(0.953,1)" vector-effect="non-scaling-stroke">U</text></g>
</svg>
</body>
</html>
